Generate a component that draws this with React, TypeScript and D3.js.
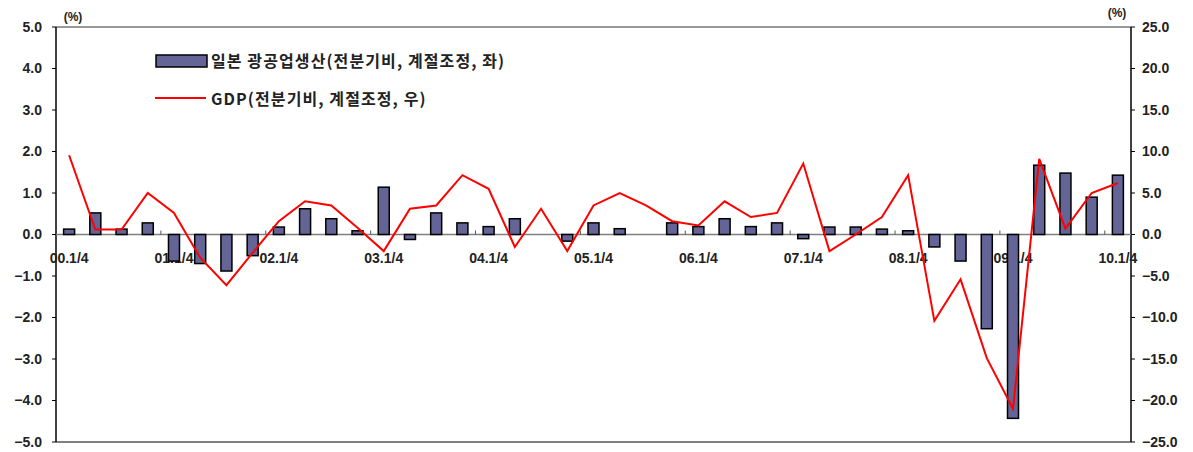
import React from "react";
import * as d3 from "d3";

const categories = [
  "00.1","00.2","00.3","00.4","01.1","01.2","01.3","01.4","02.1","02.2","02.3","02.4",
  "03.1","03.2","03.3","03.4","04.1","04.2","04.3","04.4","05.1","05.2","05.3","05.4",
  "06.1","06.2","06.3","06.4","07.1","07.2","07.3","07.4","08.1","08.2","08.3","08.4",
  "09.1","09.2","09.3","09.4","10.1",
];
const industrial = [
  0.13, 0.52, 0.13, 0.28, -0.64, -0.7, -0.88, -0.51, 0.18, 0.62, 0.38, 0.09,
  1.14, -0.12, 0.52, 0.28, 0.19, 0.38, 0, -0.16, 0.28, 0.14, 0, 0.28,
  0.19, 0.38, 0.19, 0.28, -0.1, 0.18, 0.18, 0.13, 0.09, -0.3, -0.64, -2.27,
  -4.43, 1.67, 1.48, 0.9, 1.43,
];
const gdp = [
  9.55, 0.6, 0.6, 5.0, 2.6, -2.8, -6.1, -2.2, 1.6, 4.0, 3.5, 0.8,
  -2.0, 3.1, 3.5, 7.15, 5.5, -1.5, 3.1, -2.0, 3.5, 5.0, 3.5, 1.6,
  1.1, 4.0, 2.1, 2.6, 8.55, -2.0, 0.0, 2.1, 7.15, -10.4, -5.4, -14.9,
  -21.0, 9.1, 0.7, 5.0, 6.2,
];
const leftTicks = [5, 4, 3, 2, 1, 0, -1, -2, -3, -4, -5];
const rightTicks = [25, 20, 15, 10, 5, 0, -5, -10, -15, -20, -25];
const xLabels = ["00.1","01.1","02.1","03.1","04.1","05.1","06.1","07.1","08.1","09.1","10.1"];
const seriesNames = ["일본 광공업생산(전분기비, 계절조정, 좌)", "GDP(전분기비, 계절조정, 우)"];

const W = 1193, H = 452;
const L = 56, R = 1131, T = 27, B = 442;
const numFont = "'Liberation Sans', Arial, sans-serif";
const krFont = "'Noto Sans CJK KR', 'Noto Sans', sans-serif";

const fmt = (v: number) => (v < 0 ? "\u2212" + Math.abs(v).toFixed(1) : v.toFixed(1));

export default function App() {
  const x = d3.scaleBand<string>().domain(categories).range([L, R]).paddingInner(0).paddingOuter(0);
  const yL = d3.scaleLinear().domain([-5, 5]).range([B, T]);
  const yR = d3.scaleLinear().domain([-25, 25]).range([B, T]);
  const bw = 11;
  const cx = (c: string) => (x(c) as number) + x.bandwidth() / 2;
  const line = d3
    .line<number>()
    .x((_, i) => cx(categories[i]))
    .y((d) => yR(d));
  const yearTicks = categories.map((c, i) => i).filter((i) => i > 0 && i % 4 === 0);

  return (
    <svg width={W} height={H} style={{ position: "absolute", left: 0, top: 0, background: "#fff" }}>
      {/* frame */}
      <line x1={L} x2={R} y1={T} y2={T} stroke="#333" strokeWidth={1} />
      <line x1={L} x2={R} y1={B} y2={B} stroke="#808080" strokeWidth={2} />
      <line x1={L} x2={L} y1={T} y2={B} stroke="#000" strokeWidth={1.5} />
      <line x1={R} x2={R} y1={T} y2={B} stroke="#000" strokeWidth={1.5} />
      {/* left ticks */}
      {leftTicks.map((t) => (
        <g key={"l" + t}>
          <line x1={L - 4} x2={L} y1={yL(t)} y2={yL(t)} stroke="#000" />
          <text x={42} y={yL(t)} dy="0.35em" textAnchor="end" fontFamily={numFont} fontSize={14} fontWeight="bold" fill="#222">
            {fmt(t)}
          </text>
        </g>
      ))}
      {rightTicks.map((t) => (
        <g key={"r" + t}>
          <line x1={R} x2={R + 4} y1={yR(t)} y2={yR(t)} stroke="#000" />
          <text x={1142} y={yR(t)} dy="0.35em" textAnchor="start" fontFamily={numFont} fontSize={14} fontWeight="bold" fill="#222">
            {fmt(t)}
          </text>
        </g>
      ))}
      <text x={73} y={17} dy="0.35em" textAnchor="middle" fontFamily={numFont} fontSize={12} fontWeight="bold" fill="#222">(%)</text>
      <text x={1117} y={13} dy="0.35em" textAnchor="middle" fontFamily={numFont} fontSize={12} fontWeight="bold" fill="#222">(%)</text>
      {/* x labels */}
      {xLabels.map((c) => (
        <text key={c} x={cx(c)} y={258} dy="0.35em" textAnchor="middle" fontFamily={numFont} fontSize={14} fontWeight="bold" fill="#222">
          {c + "/4"}
        </text>
      ))}
      {/* zero line and ticks */}
      <line x1={L} x2={R} y1={yL(0)} y2={yL(0)} stroke="#808080" strokeWidth={1.5} />
      {yearTicks.map((i) => (
        <line key={"t" + i} x1={L + i * x.step()} x2={L + i * x.step()} y1={yL(0) - 4} y2={yL(0)} stroke="#555" strokeWidth={1} />
      ))}
      {/* bars */}
      {industrial.map((v, i) =>
        v === 0 ? null : (
          <rect
            key={"b" + i}
            x={cx(categories[i]) - bw / 2}
            y={Math.min(yL(v), yL(0))}
            width={bw}
            height={Math.abs(yL(v) - yL(0))}
            fill="#646497"
            stroke="#000"
            strokeWidth={1.5}
          />
        )
      )}
      {/* gdp line */}
      <path d={line(gdp) || ""} fill="none" stroke="#ff0000" strokeWidth={2} strokeLinejoin="miter" />
      {/* legend */}
      <rect x={156} y={55} width={51} height={12} fill="#646497" stroke="#000" strokeWidth={1.5} />
      <text x={211} y={61} dy="0.35em" fontFamily={krFont} fontSize={16} fontWeight="bold" letterSpacing={1.1} fill="#222">
        {seriesNames[0]}
      </text>
      <line x1={155} x2={206} y1={98} y2={98} stroke="#ff0000" strokeWidth={2} />
      <text x={211} y={99} dy="0.35em" fontFamily={krFont} fontSize={16} fontWeight="bold" letterSpacing={1.1} fill="#222">
        {seriesNames[1]}
      </text>
    </svg>
  );
}
